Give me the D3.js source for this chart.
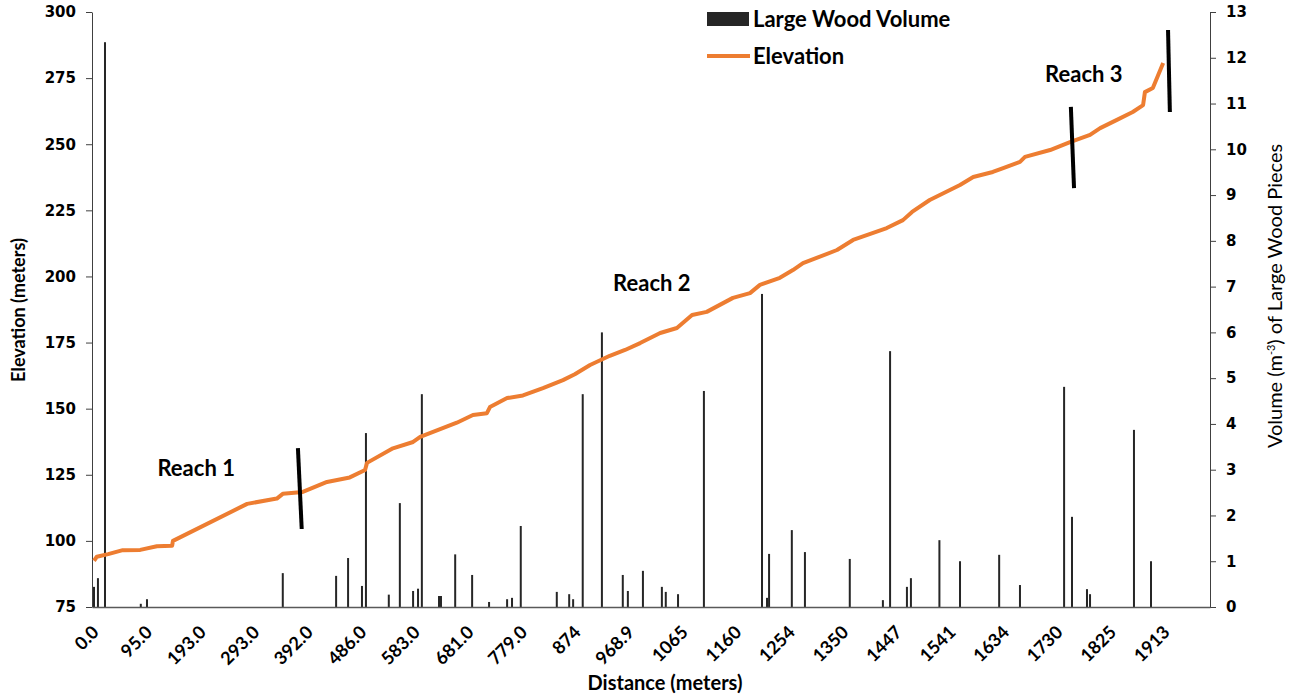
<!DOCTYPE html>
<html>
<head>
<meta charset="utf-8">
<script src="https://cdn.jsdelivr.net/npm/d3@7"></script>
<style>
  body { margin: 0; background: #fff; }
  text { font-family: Lato, "Open Sans", sans-serif; }
</style>
</head>
<body>
<div id="dataViz"></div>
<script>
/* set dimensions and margins of the graph */
const W = 1296, H = 698;
const margin = { top: 12, right: 86, bottom: 91, left: 92 },
      width = W - margin.left - margin.right, height = H - margin.top - margin.bottom;

/* distance labels on the category axis (meters) */
const distLabels = ["0.0", "95.0", "193.0", "293.0", "392.0", "486.0", "583.0", "681.0", "779.0",
                    "874", "968.9", "1065", "1160", "1254", "1350", "1447", "1541", "1634", "1730", "1825", "1913"];
const distTicks = distLabels.map(Number);
const elevTicks = [75, 100, 125, 150, 175, 200, 225, 250, 275, 300];
const volTicks = d3.range(0, 14);

/* elevation profile: distance (m) / elevation (m) */
const elevDist = [0, 5, 25, 51, 82, 112, 140, 141.5, 279, 334, 345, 382, 425, 465, 492, 495.5, 542.5, 579, 592,
                  659, 688.5, 714, 719.6, 751, 780, 815.5, 851, 872, 899, 934, 961, 988, 1024, 1054, 1081,
                  1107, 1153.5, 1183.5, 1201, 1236, 1259, 1277, 1338, 1367, 1428, 1457, 1473, 1504, 1557,
                  1580, 1614, 1632, 1662, 1671, 1716, 1751.5, 1787, 1805, 1834, 1860, 1877, 1880, 1893, 1910];
const elevVals = [92.5, 94, 95, 96.5, 96.6, 98, 98.2, 100, 114, 116, 117.8, 118.5, 122.3, 124, 126.8, 129.5, 135,
                  137.4, 139.3, 144.7, 147.6, 148.3, 150.6, 154, 155, 157.8, 160.8, 163, 166.5, 170, 172.2, 174.8,
                  178.6, 180.5, 185.4, 186.6, 191.9, 193.7, 196.8, 199.5, 202.4, 205, 210, 213.8, 218.3, 221.3,
                  224.4, 228.9, 234.6, 237.6, 239.5, 241, 243.3, 245.2, 247.8, 250.8, 253.5, 256.1, 259.2, 262.2,
                  264.8, 269.7, 271.3, 280.7];

/* large wood pieces: distance (m) / volume */
const woodDist = [0, 7, 19.5, 83, 94, 345, 441, 462, 486.4, 493.6, 535, 555, 579, 588, 595, 626.4, 630, 656, 687,
                  718, 751, 760, 776, 840, 862, 869, 886, 920, 957, 966, 993, 1027, 1034, 1056, 1102, 1204.6,
                  1213.4, 1217, 1257, 1280.5, 1361, 1421, 1434, 1464, 1471, 1521, 1557, 1625, 1662, 1741, 1755,
                  1781.6, 1787, 1862, 1890];
const woodVol = [0.44, 0.63, 12.34, 0.07, 0.17, 0.74, 0.68, 1.07, 0.46, 3.8, 0.27, 2.27, 0.35, 0.4, 4.65, 0.24,
                 0.24, 1.15, 0.7, 0.11, 0.17, 0.2, 1.77, 0.33, 0.28, 0.17, 4.65, 6.0, 0.7, 0.35, 0.79, 0.44, 0.33,
                 0.28, 4.72, 6.84, 0.2, 1.16, 1.68, 1.2, 1.05, 0.15, 5.59, 0.44, 0.63, 1.46, 1.0, 1.14, 0.48, 4.81,
                 1.97, 0.39, 0.28, 3.87, 1.0];

/* reach boundaries (distance top/bottom, elevation top/bottom) and labels */
const reachLines = [
  { d1: 373, d2: 380, e1: 135.1, e2: 104.5 },
  { d1: 1753, d2: 1758.6, e1: 264.1, e2: 233.4 },
  { d1: 1918, d2: 1921, e1: 293.2, e2: 262.2 }
];
const reachNames = ["Reach 1", "Reach 2", "Reach 3"];
const reachDist = [184, 1009, 1776];
const reachElev = [127.6, 197.5, 276.6];

/* create svg object */
const svg = d3.select("#dataViz").append("svg").attr("width", W).attr("height", H);
const g = svg.append("g").attr("transform", `translate(${margin.left}, ${margin.top})`);

/* x scale: labels are equally spaced categories, so map tick distances onto even steps */
const step = 53.55, first = 2;
const lastPad = (width - first - step * (distTicks.length - 1)) / step;
const xDom = [distTicks[0] - first / step * (distTicks[1] - distTicks[0])]
  .concat(distTicks)
  .concat([distTicks[distTicks.length - 1] + lastPad * 88]);
const xRng = [0].concat(distTicks.map((d, i) => first + i * step)).concat([width]);
const x = d3.scaleLinear().domain(xDom).range(xRng);

const yL = d3.scaleLinear().domain([75, 300]).range([height, 0]);
const yR = d3.scaleLinear().domain([0, 13]).range([height, 0]);

/* bars first (behind the line) */
const wood = woodDist.map((d, i) => ({ d: d, v: woodVol[i] }));
g.selectAll(".bar")
  .data(wood)
  .enter()
  .append("rect")
  .attr("class", "bar")
  .attr("x", d => x(d.d) - 1)
  .attr("y", d => yR(d.v))
  .attr("width", 2)
  .attr("height", d => yR(0) - yR(d.v))
  .attr("fill", "#262626");

/* axes */
const axL = g.append("g").call(d3.axisLeft(yL).tickValues(elevTicks).tickSize(6).tickPadding(10).tickSizeOuter(0));
axL.selectAll("text").style("font-family", "DejaVu Sans").style("font-weight", "bold").style("font-size", "15px").attr("fill", "#000");
axL.selectAll("line,path").attr("stroke", "#404040");

const axR = g.append("g").attr("transform", `translate(${width},0)`)
  .call(d3.axisRight(yR).tickValues(volTicks).tickSize(6).tickPadding(10).tickSizeOuter(0));
axR.selectAll("text").style("font-family", "DejaVu Sans").style("font-weight", "bold").style("font-size", "15px").attr("fill", "#000");
axR.selectAll("line,path").attr("stroke", "#404040");

const axB = g.append("g").attr("transform", `translate(0,${height})`)
  .call(d3.axisBottom(x).tickValues(distTicks).tickFormat((d, i) => distLabels[i]).tickSize(0).tickSizeOuter(0));
axB.select("path").attr("stroke", "#595959").attr("stroke-width", 1.5);
axB.selectAll("text")
  .attr("y", 0).attr("dy", "0.35em")
  .attr("text-anchor", "end")
  .attr("transform", "translate(1,22) rotate(-45)")
  .style("font-weight", "bold").style("font-size", "18px").attr("fill", "#000");

/* elevation line */
const elev = elevDist.map((d, i) => ({ d: d, e: elevVals[i] }));
const lineAcc = d3.line().x(d => x(d.d)).y(d => yL(d.e));
g.append("path")
  .datum(elev)
  .attr("fill", "none")
  .attr("stroke", "#ED7D31")
  .attr("stroke-width", 4)
  .attr("stroke-linejoin", "round")
  .attr("d", lineAcc);

/* reach boundary markers */
g.selectAll(".reach")
  .data(reachLines)
  .enter()
  .append("line")
  .attr("x1", d => x(d.d1)).attr("x2", d => x(d.d2))
  .attr("y1", d => yL(d.e1)).attr("y2", d => yL(d.e2))
  .attr("stroke", "#000").attr("stroke-width", 4);

g.selectAll(".reachLbl")
  .data(reachNames)
  .enter()
  .append("text")
  .attr("x", (d, i) => x(reachDist[i]))
  .attr("y", (d, i) => yL(reachElev[i]))
  .attr("dy", "0.35em")
  .attr("text-anchor", "middle")
  .style("font-weight", "bold").style("font-size", "22px")
  .text(d => d);

/* axis titles */
svg.append("text")
  .attr("transform", "translate(25,310) rotate(-90)")
  .attr("text-anchor", "middle")
  .style("font-weight", "bold").style("font-size", "18px")
  .text("Elevation  (meters)");

svg.append("text")
  .attr("x", margin.left + 573).attr("y", 690)
  .attr("text-anchor", "middle")
  .style("font-weight", "bold").style("font-size", "20px")
  .text("Distance (meters)");

const rt = svg.append("text")
  .attr("transform", "translate(1282,296) rotate(-90)")
  .attr("text-anchor", "middle")
  .style("font-size", "20px");
rt.append("tspan").text("Volume (m");
rt.append("tspan").attr("dy", -7).style("font-size", "11px").text("-3");
rt.append("tspan").attr("dy", 7).text(") of Large Wood Pieces");

/* legend */
const legend = svg.append("g").attr("transform", "translate(707,0)");
legend.append("rect").attr("x", 0).attr("y", 12).attr("width", 42).attr("height", 14).attr("fill", "#262626");
legend.append("text").attr("x", 46).attr("y", 27).style("font-weight", "bold").style("font-size", "22px").text("Large Wood Volume");
legend.append("line").attr("x1", 0).attr("x2", 43).attr("y1", 56).attr("y2", 56)
  .attr("stroke", "#ED7D31").attr("stroke-width", 4);
legend.append("text").attr("x", 46).attr("y", 56).attr("dy", "0.35em").style("font-weight", "bold").style("font-size", "22px").text("Elevation");
</script>
</body>
</html>
